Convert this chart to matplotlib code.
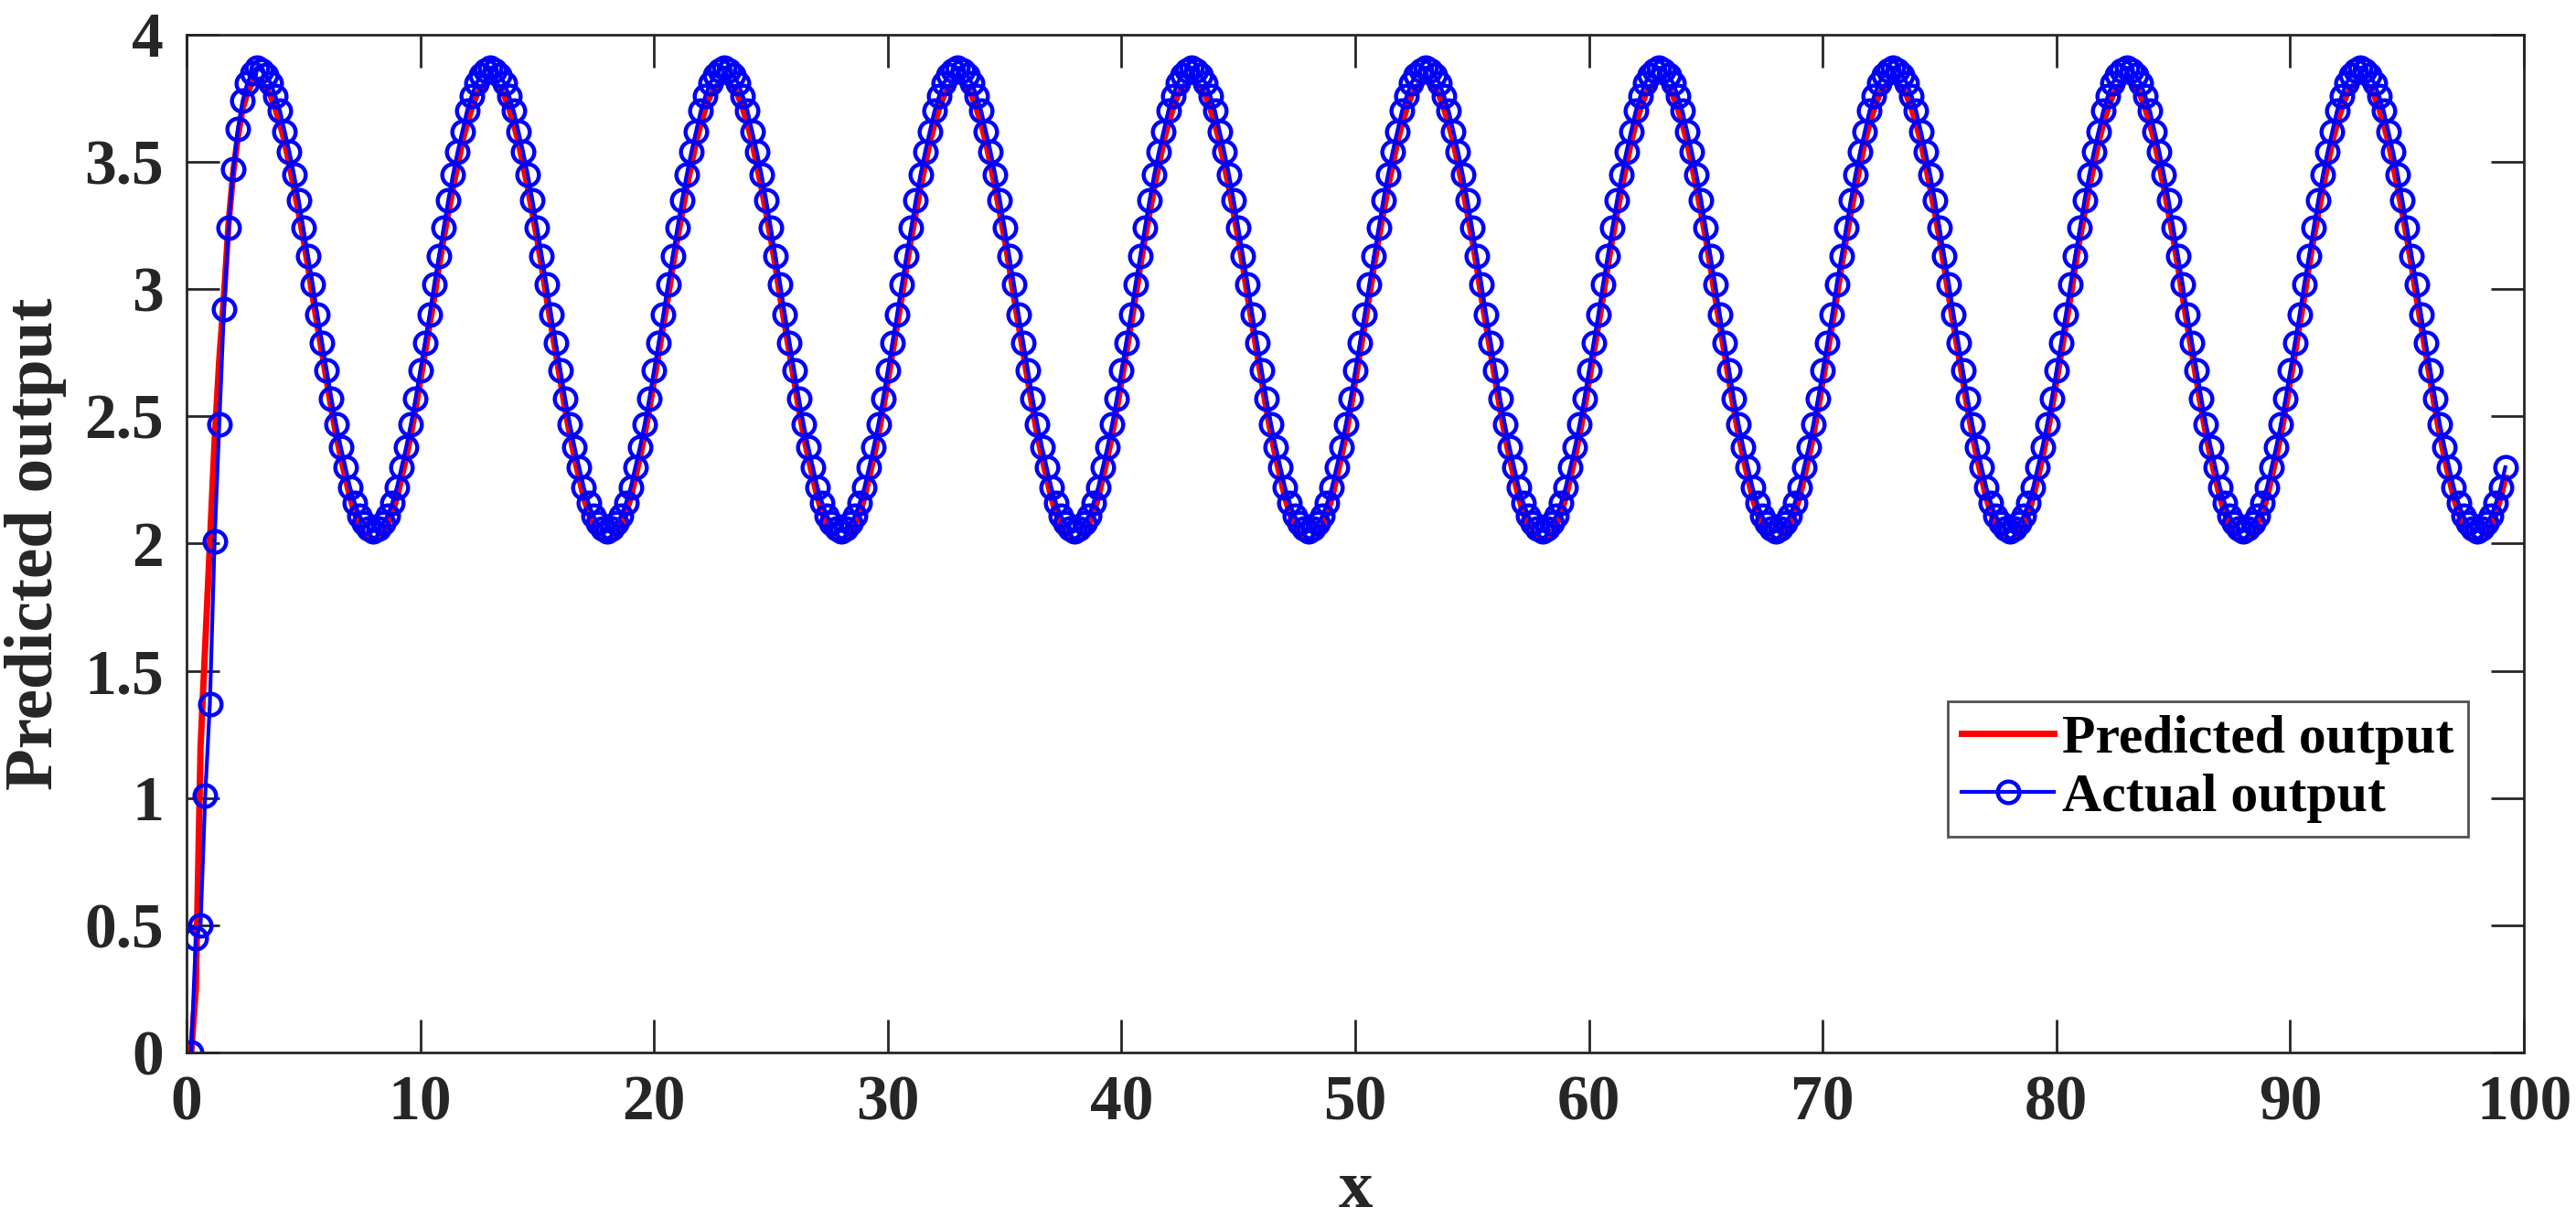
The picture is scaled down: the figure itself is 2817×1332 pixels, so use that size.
import numpy as np
import matplotlib
matplotlib.use("Agg")
import matplotlib.pyplot as plt

# === dados (passo de 0.2 em x, de 0.2 ate 99.2) ===
x_inicio = 0.2
x_passo = 0.2
n_pontos = 496

# trecho inicial (transiente), x = 0.2 ... 2.8
real_inicio = [0.00, 0.45, 0.50, 1.01, 1.37, 2.01, 2.47, 2.92, 3.24, 3.47, 3.63, 3.74, 3.81, 3.85]
prev_inicio = [0.00, 0.25, 1.20, 1.60, 2.00, 2.40, 2.72, 2.97, 3.26, 3.46, 3.60, 3.71, 3.77, 3.81]

# um ciclo (periodo 10, 50 amostras) a partir do pico em x = 3.0; o sinal se repete
real_ciclo = [3.87, 3.86, 3.84, 3.81, 3.76, 3.70, 3.62, 3.54, 3.45, 3.35,
              3.24, 3.13, 3.02, 2.90, 2.79, 2.68, 2.57, 2.47, 2.38, 2.30,
              2.22, 2.16, 2.11, 2.08, 2.06, 2.05, 2.06, 2.08, 2.11, 2.16,
              2.22, 2.30, 2.38, 2.47, 2.57, 2.68, 2.79, 2.90, 3.02, 3.13,
              3.24, 3.35, 3.45, 3.54, 3.62, 3.70, 3.76, 3.81, 3.84, 3.86]
prev_ciclo = [3.82, 3.81, 3.79, 3.76, 3.71, 3.65, 3.58, 3.49, 3.40, 3.30,
              3.20, 3.09, 2.97, 2.86, 2.75, 2.64, 2.53, 2.43, 2.34, 2.26,
              2.18, 2.12, 2.07, 2.04, 2.02, 2.01, 2.02, 2.04, 2.07, 2.12,
              2.18, 2.26, 2.34, 2.43, 2.53, 2.64, 2.75, 2.86, 2.97, 3.09,
              3.20, 3.30, 3.40, 3.49, 3.58, 3.65, 3.71, 3.76, 3.79, 3.81]

xticks = [0, 10, 20, 30, 40, 50, 60, 70, 80, 90, 100]
yticks = [0, 0.5, 1, 1.5, 2, 2.5, 3, 3.5, 4]
ytick_labels = ['0', '0.5', '1', '1.5', '2', '2.5', '3', '3.5', '4']

# === monta as series ===
x = x_inicio + x_passo * np.arange(n_pontos)
n_rep = n_pontos - len(real_inicio)
reps = n_rep // len(real_ciclo) + 1
real = np.concatenate([real_inicio, np.tile(real_ciclo, reps)[:n_rep]])
prev = np.concatenate([prev_inicio, np.tile(prev_ciclo, reps)[:n_rep]])

# === grafico ===
plt.rcParams['font.family'] = ['Liberation Serif', 'DejaVu Serif']
plt.rcParams['font.weight'] = 'bold'
cinza = '#262626'

fig = plt.figure(figsize=(28.17, 13.32), dpi=100)
ax = fig.add_axes([0.0724, 0.1359, 0.9074, 0.8356])

ax.plot(x, prev, color='red', linewidth=5, label='Predicted output')
ax.plot(x, real, color='blue', linewidth=3, marker='o', markersize=17,
        markerfacecolor='none', markeredgewidth=3.2, label='Actual output')

ax.set_xlim(0, 100)
ax.set_ylim(0, 4)
ax.set_xticks(xticks)
ax.set_yticks(yticks)
ax.set_yticklabels(ytick_labels)
ax.tick_params(direction='in', length=26, width=2, colors=cinza,
               labelsize=50, top=True, right=True, pad=18)
for lado in ax.spines.values():
    lado.set_linewidth(2)
    lado.set_color(cinza)

ax.set_xlabel('x', fontsize=54, fontweight='bold', color=cinza, labelpad=20)
ax.set_ylabel('Predicted output', fontsize=54, fontweight='bold', color=cinza, labelpad=14)

leg = ax.legend(loc='lower right', bbox_to_anchor=(0.976, 0.212), borderaxespad=0,
                fontsize=43, frameon=True, fancybox=False, handlelength=1.7,
                handletextpad=0.15, borderpad=0.25, labelspacing=0.15)
leg.get_frame().set_edgecolor(cinza)
leg.get_frame().set_linewidth(2)
for t in leg.get_texts():
    t.set_fontweight('bold')
    t.set_color('black')

fig.savefig('out.png', dpi=100, facecolor='white')
